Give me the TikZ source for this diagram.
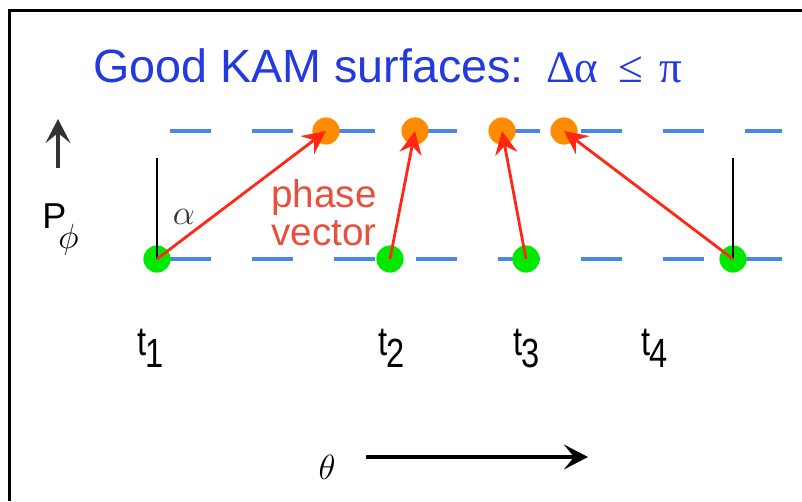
\documentclass[tikz,border=0pt]{standalone}
\usepackage{fontspec}
\setmainfont{Liberation Sans}
\newfontfamily\timesf{Liberation Serif}
\usetikzlibrary{arrows.meta}
\definecolor{kamblue}{RGB}{34,58,222}
\definecolor{dashblue}{RGB}{74,134,232}
\definecolor{vecred}{RGB}{255,40,20}
\definecolor{lblred}{RGB}{232,80,60}
\definecolor{ptgreen}{RGB}{0,232,0}
\definecolor{ptorange}{RGB}{255,140,0}
\newcommand{\tlab}[1]{\scalebox{0.8}[1]{t\kern-0.02em\raisebox{-0.3em}{#1}}}

\begin{document}
\begin{tikzpicture}[x=0.025cm, y=-0.025cm,
  surf/.style={draw=dashblue, line width=2.5pt, dash pattern=on 29.2pt off 29.2pt},
  pt/.style={circle, inner sep=0pt, minimum size=0.68cm},
  vec/.style={-{Stealth[length=0.58cm, width=0.56cm, inset=0.2cm]}, draw=vecred, line width=2pt},
  ax/.style={-{Stealth[length=0.6cm, width=0.62cm, inset=0.25cm]}, line width=2.2pt},
  tk/.style={line width=1.5pt},
  lbl/.style={font=\fontsize{29}{30}\selectfont, inner sep=0pt, anchor=base west},
]
\useasboundingbox (0,0) rectangle (802,501);
\draw[line width=2.1pt] (9.7,501) -- (9.7,10.7) -- (802,10.7);
\node[font=\fontsize{33.2}{35}\selectfont, text=kamblue, anchor=base west, inner sep=0pt] (ttl) at (93,82) {Good KAM surfaces:\hspace{0.55cm}{\timesf\fontsize{32}{34}\selectfont Δα\hspace{0.5cm}≤\hspace{0.4cm}π}};
\coordinate (sT) at (170,131); \coordinate (eT) at (782,131);
\coordinate (sB) at (170,259); \coordinate (eB) at (782,259);
\draw[surf] (sT) -- (eT);
\draw[surf] (sB) -- (eB);
\node[pt, fill=ptorange] (o1) at (326,131) {};
\node[pt, fill=ptorange] (o2) at (415,131) {};
\node[pt, fill=ptorange] (o3) at (502,131) {};
\node[pt, fill=ptorange] (o4) at (564,131) {};
\node[pt, fill=ptgreen] (g1) at (157,259) {};
\node[pt, fill=ptgreen] (g2) at (390,259) {};
\node[pt, fill=ptgreen] (g3) at (526,259) {};
\node[pt, fill=ptgreen] (g4) at (733,259) {};
\coordinate (v1) at (157,158); \coordinate (v4) at (733,158);
\draw[tk] (v1) -- (g1.center);
\draw[tk] (v4) -- (g4.center);
\draw[vec] (g1.center) -- (o1.center);
\draw[vec] (g2.center) -- (o2.center);
\draw[vec] (g3.center) -- (o3.center);
\draw[vec] (g4.center) -- (o4.center);
\node[font=\fontsize{30}{32}\selectfont, text=black!80, inner sep=0pt] (alp) at (184,217) {$\alpha$};
\node[align=center, text=lblred, font=\fontsize{27.5}{27}\selectfont, inner sep=0pt] (ph) at (324,213) {phase\\vector};
\coordinate (pA) at (58,168); \coordinate (pB) at (58,119);
\draw[ax, draw=black!80] (pA) -- (pB);
\node[font=\fontsize{25.6}{28}\selectfont, anchor=base west, inner sep=0pt] (pphi) at (42,228) {P\kern-0.2cm\raisebox{-0.5cm}{$\phi$}};
\node[lbl] (t1) at (137,355) {\tlab{1}};
\node[lbl] (t2) at (378,355) {\tlab{2}};
\node[lbl] (t3) at (513,355) {\tlab{3}};
\node[lbl] (t4) at (641,355) {\tlab{4}};
\node[font=\fontsize{25}{28}\selectfont, inner sep=0pt] (th) at (327,467) {$\theta$};
\coordinate (thA) at (366,457); \coordinate (thB) at (588,457);
\draw[ax] (thA) -- (thB);
\end{tikzpicture}
\end{document}
